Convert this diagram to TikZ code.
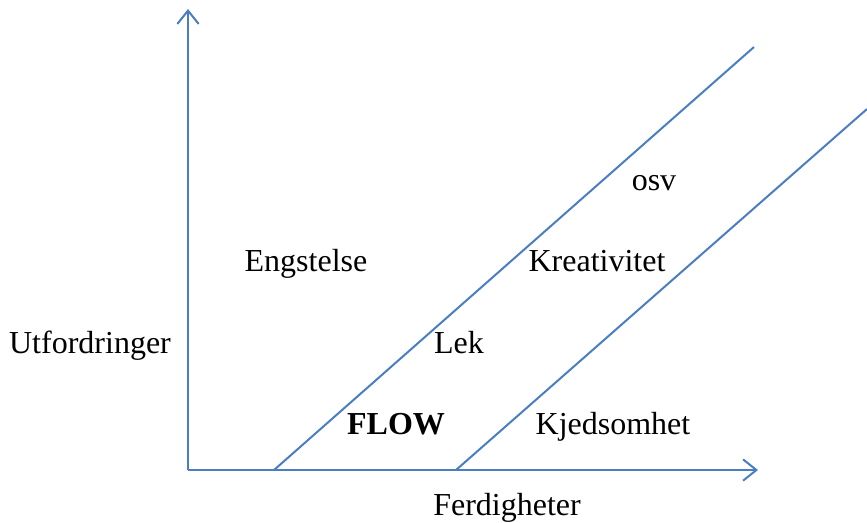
\documentclass[tikz,border=0pt]{standalone}
\usepackage{fontspec}
\setmainfont{Liberation Serif}
\usepackage{xcolor}
\usetikzlibrary{arrows.meta,positioning,calc}
\definecolor{axisblue}{HTML}{4A7EC1}

\begin{document}
\begin{tikzpicture}[x=0.75pt, y=-0.75pt,
    every node/.style={font=\fontsize{24}{28}\selectfont, anchor=base, inner sep=0pt},
    axis/.style={draw=axisblue, line width=1.5pt, -{Straight Barb[length=10pt, width=16pt, line width=1.5pt]}},
    border/.style={draw=axisblue, line width=1.5pt}]
    \useasboundingbox (0,0) rectangle (867,522);

    % axes
    \coordinate (origin) at (188,470);
    \coordinate (ytop) at (188,9);
    \coordinate (xend) at (758,470);
    \draw[axis] (origin) -- (ytop);
    \draw[axis] (origin) -- (xend);

    % flow channel
    \coordinate (upperstart) at (274,470);
    \coordinate (upperend) at (754,47);
    \coordinate (lowerstart) at (456,470);
    \coordinate (lowerend) at (867,109);
    \draw[border] (upperstart) -- (upperend);
    \draw[border] (lowerstart) -- (lowerend);

    % labels
    \node (yaxis) at (90,353) {Utfordringer};
    \node (xaxis) at (507,515) {Ferdigheter};
    \node (anxiety) at (306,271) {Engstelse};
    \node (etc) at (654,190) {osv};
    \node (creative) at (597,271) {Kreativitet};
    \node (play) at (459,353) {Lek};
    \node (flow) at (396,434) {\textbf{FLOW}};
    \node (boredom) at (613,434) {Kjedsomhet};
\end{tikzpicture}
\end{document}
